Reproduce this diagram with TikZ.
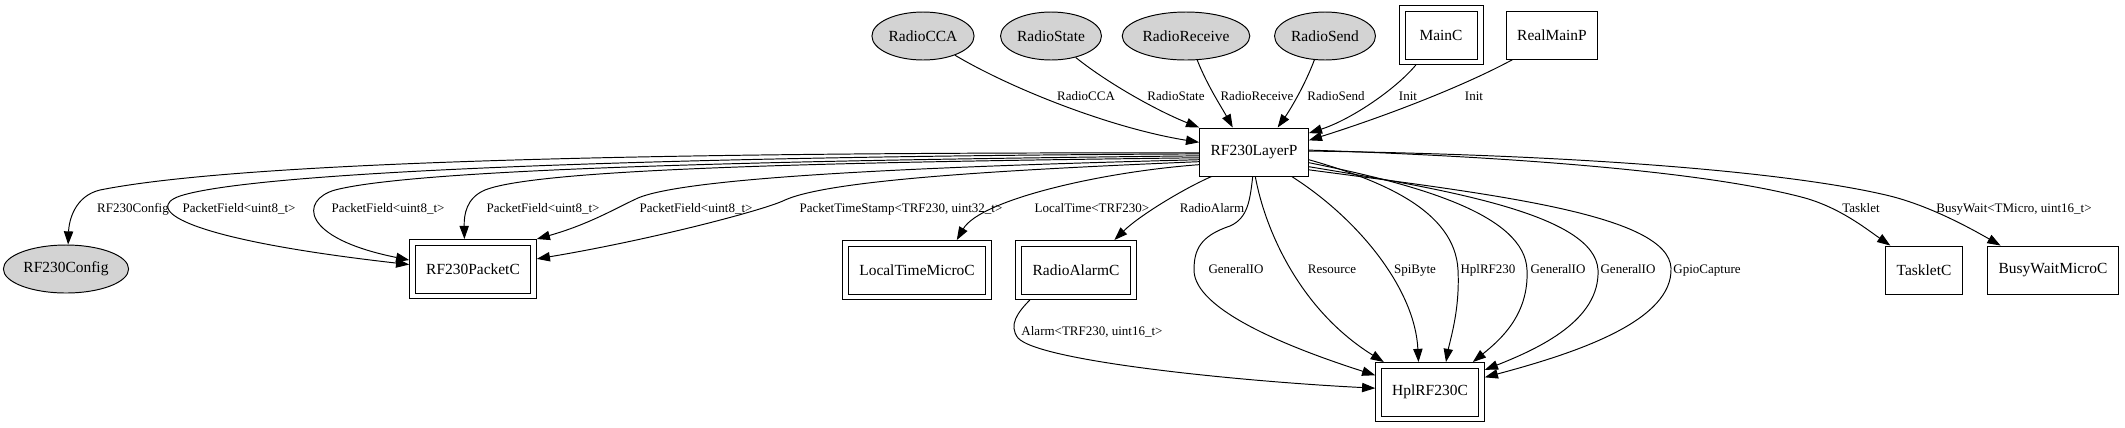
\documentclass[tikz,border=0pt]{standalone}
\usepackage{fontspec}
\setmainfont{Liberation Serif}
\usetikzlibrary{arrows.meta,shapes.geometric}
\definecolor{ifgray}{RGB}{211,211,211}

\begin{document}
\begin{tikzpicture}[
    x=0.02cm, y=-0.02cm,
    >={Triangle[length=7.5pt,width=5.3pt]},
    wire/.style={->, draw=black, line width=0.55pt},
    iface/.style={ellipse, draw=black, fill=ifgray, line width=0.55pt, minimum height=0.96cm,
                  inner xsep=1pt, inner ysep=0pt, font=\fontsize{8.8}{10}\selectfont},
    comp/.style={rectangle, draw=black, fill=white, line width=0.55pt, minimum height=0.96cm,
                 minimum width=1.44cm, inner xsep=6.25pt, inner ysep=0pt, font=\fontsize{8.8}{10}\selectfont},
    conf/.style={comp, outer sep=3.4pt},
    frame/.style={draw=black, line width=0.55pt},
    tag/.style={inner sep=0pt, anchor=base, font=\fontsize{7.4}{9}\selectfont},
  ]
  \useasboundingbox (0,0) rectangle (2125,427);

  %% ---------------- nodes ----------------
  \node[iface] (RadioCCA) at (923,36) {RadioCCA};
  \node[iface] (RadioState) at (1051,36) {RadioState};
  \node[iface] (RadioReceive) at (1186,36) {RadioReceive};
  \node[iface] (RadioSend) at (1325,36) {RadioSend};
  \node[conf] (MainC) at (1441,35) {MainC};
  \node[comp] (RealMainP) at (1552,35) {RealMainP};

  \node[comp] (RF230LayerP) at (1254,152) {RF230LayerP};

  \node[iface] (RF230Config) at (66,269) {RF230Config};
  \node[conf] (RF230PacketC) at (473,269) {RF230PacketC};
  \node[conf] (LocalTimeMicroC) at (917,270) {LocalTimeMicroC};
  \node[conf] (RadioAlarmC) at (1076,270) {RadioAlarmC};
  \node[comp] (TaskletC) at (1924,270) {TaskletC};
  \node[comp] (BusyWaitMicroC) at (2053,270) {BusyWaitMicroC};

  \node[conf] (HplRF230C) at (1430,392) {HplRF230C};

  % configurations get a second frame
  \foreach \n in {MainC,RF230PacketC,LocalTimeMicroC,RadioAlarmC,HplRF230C} {
    \draw[frame] (\n.north west) rectangle (\n.south east);
  }

  %% ---------------- used by RF230LayerP ----------------
  \draw[wire] (RadioCCA.-31) .. controls (1010,88) and (1110,128) .. (RF230LayerP.170);
  \draw[wire] (RadioState.-41) .. controls (1110,85) and (1160,112) .. (RF230LayerP.north west);
  \draw[wire] (RadioReceive.-65) .. controls (1207,85) and (1222,108) .. (RF230LayerP.131);
  \draw[wire] (RadioSend.-114) .. controls (1305,85) and (1290,110) .. (RF230LayerP.46);
  \draw[wire] (MainC.-130) .. controls (1395,90) and (1350,120) .. (RF230LayerP.19);
  \draw[wire] (RealMainP.-148) .. controls (1460,88) and (1380,118) .. (RF230LayerP.12);

  \node[tag] (lCCA) at (1086,100) {RadioCCA};
  \node[tag] (lState) at (1176,100) {RadioState};
  \node[tag] (lReceive) at (1257,100) {RadioReceive};
  \node[tag] (lSend) at (1336,100) {RadioSend};
  \node[tag] (lInitA) at (1408,100) {Init};
  \node[tag] (lInitB) at (1474,100) {Init};

  %% ---------------- left fan ----------------
  \draw[wire] (RF230LayerP.181) .. controls (700,152) and (250,160) .. (100,190)
    .. controls (75,196) and (69,220) .. (RF230Config.85);
  \draw[wire] (RF230LayerP.182) .. controls (700,156) and (260,170) .. (180,196)
    .. controls (145,208) and (175,238) .. (RF230PacketC.176);
  \draw[wire] (RF230LayerP.184) .. controls (800,160) and (420,168) .. (335,190)
    .. controls (300,200) and (300,238) .. (RF230PacketC.172);
  \draw[wire] (RF230LayerP.186) .. controls (850,162) and (540,168) .. (485,190)
    .. controls (466,198) and (464,215) .. (RF230PacketC.106);
  \draw[wire] (RF230LayerP.188) .. controls (950,166) and (690,176) .. (638,198)
    .. controls (618,207) and (590,224) .. (RF230PacketC.north east);
  \draw[wire] (RF230LayerP.190) .. controls (1000,170) and (830,180) .. (785,200)
    .. controls (765,210) and (650,240) .. (RF230PacketC.9);
  \draw[wire] (RF230LayerP.193) .. controls (1100,172) and (980,200) .. (LocalTimeMicroC.37);
  \draw[wire] (RF230LayerP.-150) .. controls (1185,188) and (1140,215) .. (RadioAlarmC.38);

  \node[tag] (lConfig) at (133,212) {RF230Config};
  \node[tag] (lFieldA) at (239,212) {PacketField<uint8\_t>};
  \node[tag] (lFieldB) at (388,212) {PacketField<uint8\_t>};
  \node[tag] (lFieldC) at (543,212) {PacketField<uint8\_t>};
  \node[tag] (lFieldD) at (696,212) {PacketField<uint8\_t>};
  \node[tag] (lStamp) at (901,212) {PacketTimeStamp<TRF230, uint32\_t>};
  \node[tag] (lTime) at (1092,212) {LocalTime<TRF230>};
  \node[tag] (lAlarm) at (1212,212) {RadioAlarm};

  %% ---------------- right side ----------------
  \draw[wire] (RF230LayerP.2) .. controls (1550,158) and (1720,175) .. (1805,198)
    .. controls (1840,208) and (1865,228) .. (TaskletC.144);
  \draw[wire] (RF230LayerP.1) .. controls (1600,155) and (1800,174) .. (1890,196)
    .. controls (1930,206) and (1970,228) .. (BusyWaitMicroC.155);

  \node[tag] (lTasklet) at (1861,212) {Tasklet};
  \node[tag] (lBusy) at (2014,212) {BusyWait<TMicro, uint16\_t>};

  %% ---------------- into HplRF230C ----------------
  \draw[wire] (RF230LayerP.-93) .. controls (1250,200) and (1248,218) .. (1230,226)
    .. controls (1200,236) and (1194,250) .. (1194,270)
    .. controls (1194,310) and (1290,348) .. (HplRF230C.163);
  \draw[wire] (RF230LayerP.-87) .. controls (1265,230) and (1300,310) .. (HplRF230C.147);
  \draw[wire] (RF230LayerP.-33) .. controls (1360,220) and (1415,290) .. (HplRF230C.111);
  \draw[wire] (RF230LayerP.-8) .. controls (1380,180) and (1455,210) .. (1458,270)
    .. controls (1460,310) and (1450,340) .. (HplRF230C.62);
  \draw[wire] (RF230LayerP.-11) .. controls (1420,185) and (1525,215) .. (1527,270)
    .. controls (1529,315) and (1500,340) .. (HplRF230C.35);
  \draw[wire] (RF230LayerP.-15) .. controls (1450,190) and (1595,215) .. (1598,270)
    .. controls (1600,320) and (1540,348) .. (HplRF230C.22);
  \draw[wire] (RF230LayerP.-18) .. controls (1500,195) and (1668,215) .. (1671,268)
    .. controls (1673,320) and (1580,352) .. (HplRF230C.15);
  % the alarm wire dips left under RadioAlarmC first
  \draw[wire] (RadioAlarmC.-147) .. controls (1018,312) and (1008,325) .. (1018,338)
    .. controls (1040,362) and (1250,382) .. (HplRF230C.176);

  \node[tag] (lGioA) at (1236,273) {GeneralIO};
  \node[tag] (lRes) at (1332,273) {Resource};
  \node[tag] (lSpi) at (1415,273) {SpiByte};
  \node[tag] (lHpl) at (1488,273) {HplRF230};
  \node[tag] (lGioB) at (1558,273) {GeneralIO};
  \node[tag] (lGioC) at (1628,273) {GeneralIO};
  \node[tag] (lCap) at (1707,273) {GpioCapture};
  \node[tag] (lAlarmHw) at (1092,335) {Alarm<TRF230, uint16\_t>};

\end{tikzpicture}
\end{document}
